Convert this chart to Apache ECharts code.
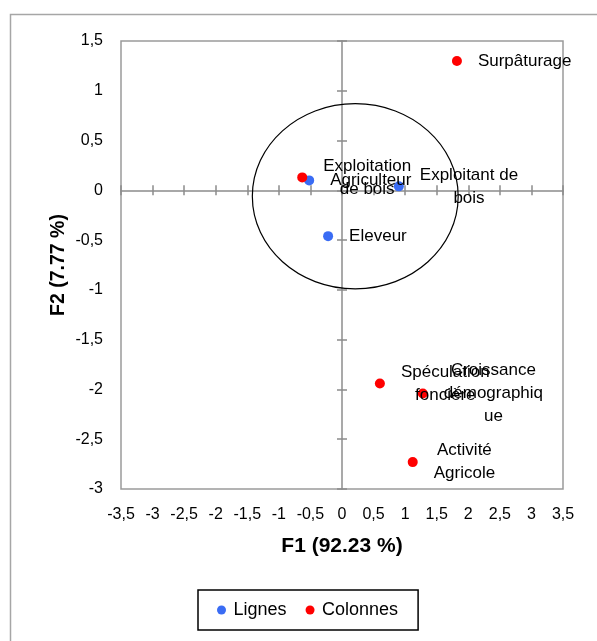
<!DOCTYPE html>
<html>
<head>
<meta charset="utf-8">
<script src="https://cdn.jsdelivr.net/npm/echarts@6/dist/echarts.min.js"></script>
<style>
  html, body { margin: 0; padding: 0; background: #fff; }
  #chart { width: 597px; height: 641px; }
</style>
</head>
<body>
<div id="chart"></div>
<script>
// ---- Data ----
const lignesNames = ['Agriculteur', 'Exploitant de\nbois', 'Eleveur'];
const lignesX = [-0.52, 0.90, -0.22];
const lignesY = [0.10, 0.04, -0.46];

const colonnesNames = ['Exploitation\nde bois', 'Surpâturage', 'Spéculation\nfoncière', 'Croissance\ndémographiq\nue', 'Activité\nAgricole'];
const colonnesX = [-0.63, 1.82, 0.60, 1.28, 1.12];
const colonnesY = [0.13, 1.30, -1.94, -2.04, -2.73];

// correlation circle: centre x, centre y, radius x, radius y (data units)
const circleSpec = [0.21, -0.06, 1.63, 0.93];

const xTickLabels = ['-3,5','-3','-2,5','-2','-1,5','-1','-0,5','0','0,5','1','1,5','2','2,5','3','3,5'];
const yTickLabels = ['-3','-2,5','-2','-1,5','-1','-0,5','0','0,5','1','1,5'];

const xMin = -3.5, xMax = 3.5, yMin = -3, yMax = 1.5, step = 0.5;
const FONT = 'Liberation Sans';

function xLab(v) { return xTickLabels[Math.round((v - xMin) / step)] || ''; }
function yLab(v) { return yTickLabels[Math.round((v - yMin) / step)] || ''; }

function pts(names, xs, ys) {
  return names.map((n, i) => ({ name: n, value: [xs[i], ys[i]] }));
}

const labelCfg = {
  show: true,
  position: 'right',
  distance: 16,
  formatter: p => p.name.split('\n').map(s => '{c|' + s + '}').join('\n'),
  rich: {
    c: { align: 'center', fontSize: 17, lineHeight: 23, color: '#000', fontFamily: FONT }
  }
};

const axisColor = '#8c8c8c';

function xAxisBase(extra) {
  return Object.assign({
    type: 'value', min: xMin, max: xMax, interval: step, position: 'bottom',
    splitLine: { show: false }
  }, extra);
}
function yAxisBase(extra) {
  return Object.assign({
    type: 'value', min: yMin, max: yMax, interval: step, position: 'left',
    splitLine: { show: false }
  }, extra);
}

const chart = echarts.init(document.getElementById('chart'));
chart.setOption({
  backgroundColor: '#fff',
  animation: false,
  textStyle: { fontFamily: FONT },
  grid: {
    left: 121, top: 41, right: 34, bottom: 152,
    show: true, borderColor: '#9a9a9a', borderWidth: 1.5, backgroundColor: 'transparent'
  },
  graphic: [{
    type: 'rect', left: 8, top: 12, silent: true,
    shape: { x: 0, y: 0, width: 620, height: 660 },
    style: { fill: 'none', stroke: '#a6a6a6', lineWidth: 1.5 }
  }],
  legend: {
    data: ['Lignes', 'Colonnes'],
    left: 198, top: 590,
    orient: 'horizontal',
    icon: 'circle',
    itemWidth: 14, itemHeight: 9,
    itemGap: 19,
    padding: [11, 20, 11, 19],
    borderColor: '#000', borderWidth: 1.5,
    textStyle: { fontSize: 18, color: '#000', fontFamily: FONT }
  },
  xAxis: [
    xAxisBase({
      axisLine: { show: false, onZero: false },
      axisTick: { show: false },
      axisLabel: { show: true, margin: 18, fontSize: 16, color: '#000', fontFamily: FONT, formatter: xLab },
      name: 'F1 (92.23 %)', nameLocation: 'middle', nameGap: 47, nameMoveOverlap: false,
      nameTextStyle: { fontSize: 21, fontWeight: 'bold', color: '#000', fontFamily: FONT }
    }),
    xAxisBase({
      axisLine: { show: true, onZero: true, onZeroAxisIndex: 0, lineStyle: { color: axisColor, width: 1.5 } },
      axisTick: { show: true, inside: false, length: 5, lineStyle: { color: axisColor, width: 1.5 } },
      axisLabel: { show: false }
    }),
    xAxisBase({
      axisLine: { show: false, onZero: true, onZeroAxisIndex: 0 },
      axisTick: { show: true, inside: true, length: 5, lineStyle: { color: axisColor, width: 1.5 } },
      axisLabel: { show: false }
    })
  ],
  yAxis: [
    yAxisBase({
      axisLine: { show: false, onZero: false },
      axisTick: { show: false },
      axisLabel: { show: true, margin: 18, fontSize: 16, color: '#000', fontFamily: FONT, formatter: yLab },
      name: 'F2 (7.77 %)', nameLocation: 'middle', nameGap: 52, nameRotate: 90, nameMoveOverlap: false,
      nameTextStyle: { fontSize: 19.5, fontWeight: 'bold', color: '#000', fontFamily: FONT }
    }),
    yAxisBase({
      axisLine: { show: true, onZero: true, onZeroAxisIndex: 0, lineStyle: { color: axisColor, width: 1.5 } },
      axisTick: { show: true, inside: false, length: 5, lineStyle: { color: axisColor, width: 1.5 } },
      axisLabel: { show: false }
    }),
    yAxisBase({
      axisLine: { show: false, onZero: true, onZeroAxisIndex: 0 },
      axisTick: { show: true, inside: true, length: 5, lineStyle: { color: axisColor, width: 1.5 } },
      axisLabel: { show: false }
    })
  ],
  series: [
    {
      type: 'custom',
      name: 'cercle',
      xAxisIndex: 0, yAxisIndex: 0,
      silent: true,
      data: [circleSpec],
      renderItem: function (params, api) {
        const c = api.coord([api.value(0), api.value(1)]);
        const s = api.size([api.value(2), api.value(3)]);
        return {
          type: 'ellipse',
          shape: { cx: c[0], cy: c[1], rx: s[0], ry: s[1] },
          style: { fill: 'none', stroke: '#000', lineWidth: 1.2 }
        };
      },
      z: 1
    },
    {
      type: 'scatter', name: 'Lignes',
      xAxisIndex: 0, yAxisIndex: 0,
      symbol: 'circle', symbolSize: 10,
      itemStyle: { color: '#3a6cf4', opacity: 1 },
      label: labelCfg,
      data: pts(lignesNames, lignesX, lignesY),
      z: 3
    },
    {
      type: 'scatter', name: 'Colonnes',
      xAxisIndex: 0, yAxisIndex: 0,
      symbol: 'circle', symbolSize: 10,
      itemStyle: { color: '#ff0000', opacity: 1 },
      label: labelCfg,
      data: pts(colonnesNames, colonnesX, colonnesY),
      z: 3
    }
  ]
});
</script>
</body>
</html>
